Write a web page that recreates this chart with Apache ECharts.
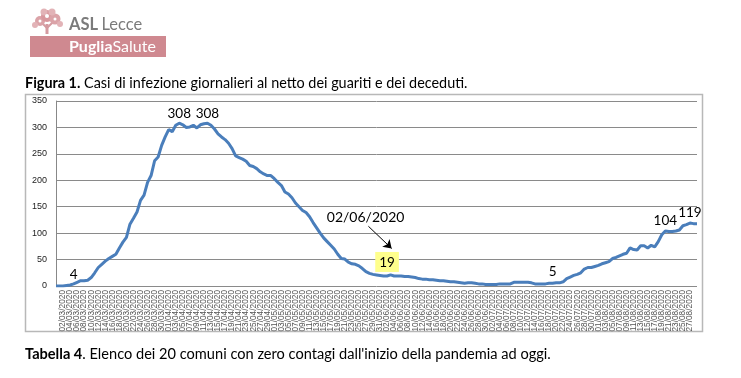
<!DOCTYPE html>
<html><head><meta charset="utf-8">
<script src="https://cdn.jsdelivr.net/npm/echarts@6/dist/echarts.min.js"></script>
<style>html,body{margin:0;padding:0;background:#fff}#c{width:741px;height:378px}</style>
</head><body><div id="c"></div>
<script>
// Daily values from 29/02/2020 (index 0) to 29/08/2020 (index 182)
const values = [
  0,0,0,1,2,4,7,10,10,11,
  16,25,35,41,47,52,56,60,72,83,
  92,117,128,140,162,172,196,209,237,244,
  266,282,296,292,304,308,305,300,301,304,
  299,305,307,308,304,297,288,282,277,270,
  260,246,243,240,236,228,226,222,216,212,
  209,209,203,196,190,178,174,167,157,150,
  143,139,131,120,110,100,91,84,77,70,
  60,52,51,45,42,41,38,33,27,24,
  22,21,20,19,19,21,19,19,19,18,
  18,17,16,14,13,13,12,12,11,10,
  10,9,8,8,7,6,5,6,6,5,
  4,4,3,3,3,3,4,4,4,4,
  7,7,7,7,7,6,4,4,4,4,
  5,5,6,6,8,14,17,20,22,25,
  32,35,35,37,39,42,44,46,52,54,
  57,60,62,72,69,68,76,76,72,77,
  74,84,97,104,103,103,104,106,114,116,
  119,118,118
];
const startDay = [2020, 1, 29];           // 29 Feb 2020
const labelledIdx = [5, 35, 43, 94, 141, 173, 180];
const highlightIdx = 94;                  // 02/06/2020
const annotationText = '02/06/2020';
const arrowFrom = [88.7, 113];
const arrowTo = [95.3, 71];
const annotationPos = [87.9, 129];
const yMin = 0, yMax = 350, yStep = 50;
const titleBold = 'Figura 1.';
const titleRest = ' Casi di infezione giornalieri al netto dei guariti e dei deceduti.';
const captionBold = 'Tabella 4';
const captionRest = ". Elenco dei 20 comuni con zero contagi dall'inizio della pandemia ad oggi.";

const dates = values.map((_, i) => {
  const d = new Date(Date.UTC(startDay[0], startDay[1], startDay[2] + i));
  const dd = String(d.getUTCDate()).padStart(2, '0');
  const mm = String(d.getUTCMonth() + 1).padStart(2, '0');
  return dd + '/' + mm + '/' + d.getUTCFullYear();
});

const FONT = 'Lato, "Liberation Sans", sans-serif';
const seriesData = values.map((v, i) => {
  if (labelledIdx.indexOf(i) < 0) return {value: [i, v]};
  const lab = {show: true, position: 'top', distance: 3, fontSize: 13.5, color: '#000', fontFamily: FONT, formatter: String(v)};
  if (i === highlightIdx) {
    lab.backgroundColor = '#ffff8c';
    lab.padding = [4, 4, 2, 4];
    lab.distance = 4;
  }
  if (i === 141) lab.distance = 5;
  if (i === 5) lab.distance = 2;
  return {value: [i, v], label: lab};
});

const chart = echarts.init(document.getElementById('c'), null, {renderer: 'canvas'});
chart.setOption({
  backgroundColor: '#fff',
  animation: false,
  grid: {left: 56, top: 101, width: 641, height: 185},
  xAxis: {
    type: 'value', min: 0, max: values.length - 1, interval: 2,
    axisLine: {show: false},
    axisTick: {show: false},
    splitLine: {show: false},
    axisLabel: {
      rotate: 90, fontSize: 8.3, color: '#555', margin: 4, fontFamily: '"Liberation Sans", sans-serif',
      formatter: v => (v % 2 === 0 && v <= 180) ? dates[v] : ''
    }
  },
  yAxis: {
    type: 'value', min: yMin, max: yMax, interval: yStep,
    axisLine: {show: true, lineStyle: {color: '#888', width: 1}},
    axisTick: {show: false},
    splitLine: {show: true, lineStyle: {color: '#8a8a8a', width: 1}},
    axisLabel: {fontSize: 9, color: '#222', margin: 9, fontFamily: '"Liberation Sans", sans-serif'}
  },
  series: [{
    type: 'line',
    data: seriesData,
    showSymbol: true,
    showAllSymbol: true,
    symbol: 'circle',
    symbolSize: 0,
    lineStyle: {color: '#4a7ebb', width: 3},
    itemStyle: {color: '#4a7ebb'},
    label: {show: false},
    labelLayout: {hideOverlap: false},
    markLine: {
      silent: true,
      symbol: ['none', 'arrow'],
      symbolSize: 8,
      lineStyle: {color: '#000', width: 1, type: 'solid'},
      label: {show: false},
      data: [[{coord: arrowFrom}, {coord: arrowTo}]]
    },
    markPoint: {
      silent: true,
      symbol: 'circle', symbolSize: 1,
      itemStyle: {color: 'rgba(0,0,0,0)'},
      label: {show: true, position: 'inside', fontSize: 14, color: '#000', fontFamily: FONT},
      data: [{coord: annotationPos, label: {formatter: annotationText}}]
    }
  }],
  graphic: [
    {type: 'rect', shape: {x: 25.5, y: 94.5, width: 677, height: 237}, style: {fill: 'none', stroke: '#b8b8b8', lineWidth: 1.5}, silent: true},
    // logo tree
    {type: 'group', silent: true, children: [
      {type: 'line', shape: {x1: 47, y1: 24, x2: 47, y2: 34}, style: {stroke: '#d49aa0', lineWidth: 3}},
      {type: 'line', shape: {x1: 47, y1: 28, x2: 41, y2: 22}, style: {stroke: '#d49aa0', lineWidth: 2}},
      {type: 'line', shape: {x1: 47, y1: 28, x2: 54, y2: 21}, style: {stroke: '#d49aa0', lineWidth: 2}},
      {type: 'circle', shape: {cx: 40, cy: 21, r: 5}, style: {fill: '#dba3a8'}},
      {type: 'circle', shape: {cx: 47, cy: 16, r: 6}, style: {fill: '#d8979d'}},
      {type: 'circle', shape: {cx: 55, cy: 19, r: 5.5}, style: {fill: '#dba3a8'}},
      {type: 'circle', shape: {cx: 44, cy: 12, r: 3.5}, style: {fill: '#e2b3b7'}},
      {type: 'circle', shape: {cx: 52, cy: 12, r: 3.5}, style: {fill: '#e2b3b7'}},
      {type: 'circle', shape: {cx: 60, cy: 24, r: 3}, style: {fill: '#e2b3b7'}},
      {type: 'circle', shape: {cx: 35, cy: 25, r: 3}, style: {fill: '#e2b3b7'}},
      {type: 'circle', shape: {cx: 47, cy: 16, r: 2}, style: {fill: '#fff'}},
      {type: 'circle', shape: {cx: 40, cy: 21, r: 1.5}, style: {fill: '#fff'}},
      {type: 'circle', shape: {cx: 55, cy: 19, r: 1.5}, style: {fill: '#fff'}}
    ]},
    {type: 'text', x: 69, y: 25, silent: true, style: {
      text: '{b|ASL} {n|Lecce}', verticalAlign: 'middle',
      rich: {b: {fontSize: 16.5, fontWeight: 'bold', fill: '#7b7b7b', fontFamily: FONT}, n: {fontSize: 16.5, fill: '#7b7b7b', fontFamily: FONT}}
    }},
    {type: 'rect', shape: {x: 30, y: 36, width: 136, height: 21}, style: {fill: '#cf8990'}, silent: true},
    {type: 'text', x: 69, y: 47, silent: true, style: {
      text: '{b|Puglia}{n|Salute}', verticalAlign: 'middle',
      rich: {b: {fontSize: 16, fontWeight: 'bold', fill: '#fff', fontFamily: FONT}, n: {fontSize: 16, fill: '#fff', fontFamily: FONT}}
    }},
    {type: 'text', x: 25, y: 83, silent: true, style: {
      text: '{b|' + titleBold + '}{n|' + titleRest + '}', verticalAlign: 'middle',
      rich: {b: {fontSize: 14.4, fontWeight: 'bold', fill: '#000', fontFamily: FONT}, n: {fontSize: 14.4, fill: '#000', fontFamily: FONT}}
    }},
    {type: 'text', x: 25, y: 354, silent: true, style: {
      text: '{b|' + captionBold + '}{n|' + captionRest + '}', verticalAlign: 'middle',
      rich: {b: {fontSize: 14.6, fontWeight: 'bold', fill: '#000', fontFamily: FONT}, n: {fontSize: 14.6, fill: '#000', fontFamily: FONT}}
    }}
  ]
});
</script>
</body></html>
